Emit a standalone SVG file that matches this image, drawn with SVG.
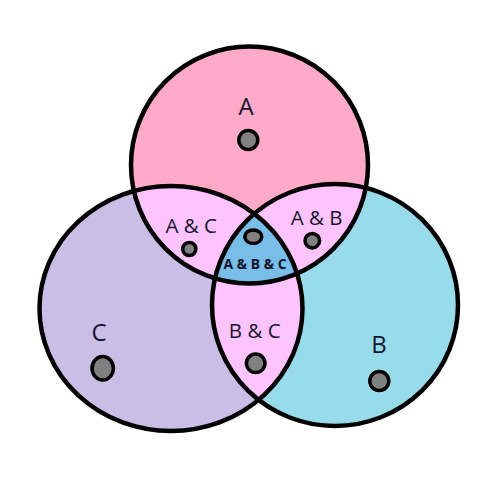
<svg xmlns="http://www.w3.org/2000/svg" width="500" height="500" viewBox="0 0 500 500">
  <style>
    .outline { fill: none; stroke: #000; stroke-width: 4.5; }
    .dot { fill: #808080; stroke: #000; stroke-width: 3.5; }
    .lbl { font-family: "Open Sans", "Noto Sans", sans-serif; fill: #15152e; text-anchor: middle; }
    .big { font-size: 24px; }
    .mid { font-size: 20.5px; }
    .small { font-size: 14.5px; font-weight: bold; }
  </style>
  <defs>
    <ellipse id="eA" cx="249.5" cy="165" rx="118.5" ry="118.5"/>
    <ellipse id="eB" cx="335" cy="305" rx="123" ry="121"/>
    <ellipse id="eC" cx="171" cy="308.5" rx="131.5" ry="122.5"/>
    <clipPath id="clipA"><use href="#eA"/></clipPath>
    <clipPath id="clipB"><use href="#eB"/></clipPath>
    <clipPath id="clipC"><use href="#eC"/></clipPath>
  </defs>
  <rect width="500" height="500" fill="#fff"/>
  <g id="regions">
    <use href="#eA" fill="#ffaac8"/>
    <use href="#eC" fill="#c8bee6"/>
    <use href="#eB" fill="#98dbea"/>
    <use href="#eC" fill="#ffc3ff" clip-path="url(#clipA)"/>
    <use href="#eB" fill="#ffc3ff" clip-path="url(#clipA)"/>
    <use href="#eB" fill="#ffc3ff" clip-path="url(#clipC)"/>
    <g clip-path="url(#clipB)">
      <use href="#eC" fill="#78bee8" clip-path="url(#clipA)"/>
    </g>
  </g>
  <g id="connectors">
    <use href="#eA" class="outline"/>
    <use href="#eB" class="outline"/>
    <use href="#eC" class="outline"/>
  </g>
  <g id="node-A">
    <text class="lbl big" x="246" y="115">A</text>
    <circle class="dot" cx="248.3" cy="140" r="9.5"/>
  </g>
  <g id="node-B">
    <text class="lbl big" x="379" y="352.5">B</text>
    <circle class="dot" cx="379.3" cy="381" r="9.5"/>
  </g>
  <g id="node-C">
    <text class="lbl big" x="99" y="340.5">C</text>
    <ellipse class="dot" cx="102.7" cy="368.3" rx="10.7" ry="11.7"/>
  </g>
  <g id="node-AC">
    <text class="lbl mid" x="191.3" y="233.3">A &amp; C</text>
    <circle class="dot" cx="189.3" cy="249" r="6.6"/>
  </g>
  <g id="node-AB">
    <text class="lbl mid" x="316.7" y="225">A &amp; B</text>
    <circle class="dot" cx="312.3" cy="240.7" r="7.3"/>
  </g>
  <g id="node-BC">
    <text class="lbl mid" x="254.7" y="338.3">B &amp; C</text>
    <circle class="dot" cx="255.7" cy="363.3" r="9.3"/>
  </g>
  <g id="node-ABC">
    <ellipse class="dot" cx="253.3" cy="236.7" rx="8.5" ry="6.8"/>
    <text class="lbl small" x="255" y="269.3" textLength="63" lengthAdjust="spacingAndGlyphs">A &amp; B &amp; C</text>
  </g>
</svg>
